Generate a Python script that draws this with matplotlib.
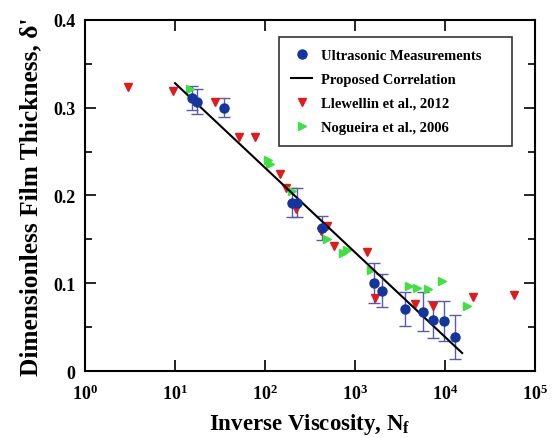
import numpy as np
import matplotlib
matplotlib.use("Agg")
from matplotlib import pyplot as plt
from matplotlib.ticker import FixedLocator, MultipleLocator, FuncFormatter

plt.rcParams['font.family'] = ['Liberation Serif', 'DejaVu Serif']
plt.rcParams['font.weight'] = 'bold'
plt.rcParams['mathtext.fontset'] = 'custom'
plt.rcParams['mathtext.rm'] = 'Liberation Serif:bold'
plt.rcParams['mathtext.it'] = 'Liberation Serif:bold'
plt.rcParams['mathtext.bf'] = 'Liberation Serif:bold'

# Ultrasonic measurements (with error bars)
us_x = [15.3, 17.4, 35.0, 198, 225, 427, 1626, 1980, 3593, 5650, 7300, 9820, 12900]
us_y = [0.311, 0.307, 0.300, 0.192, 0.192, 0.163, 0.100, 0.0915, 0.0707, 0.0676, 0.0585, 0.0573, 0.0387]
us_err = [0.014, 0.014, 0.011, 0.017, 0.017, 0.014, 0.023, 0.019, 0.019, 0.022, 0.021, 0.023, 0.025]

# Proposed correlation (straight line on semilog axes)
corr_x = [10, 15500]
corr_y = [0.328, 0.0205]

# Llewellin et al., 2012
ll_x = [3.0, 9.6, 27.8, 51.8, 78, 147, 171, 221, 416, 493, 589, 1371, 1656, 4680, 7300, 20650, 58400]
ll_y = [0.324, 0.319, 0.306, 0.267, 0.267, 0.225, 0.208, 0.185, 0.160, 0.165, 0.142, 0.136, 0.083, 0.0764, 0.0745, 0.0847, 0.087]

# Nogueira et al., 2006
ng_x = [14.7, 109, 114, 198, 493, 741, 820, 1493, 3950, 4840, 6410, 9340, 17400]
ng_y = [0.321, 0.240, 0.236, 0.205, 0.150, 0.134, 0.138, 0.115, 0.0965, 0.0946, 0.094, 0.102, 0.0737]

fig = plt.figure(figsize=(5.57, 4.39), dpi=100)
ax = fig.add_axes([0.1526, 0.1526, 0.8079, 0.7996])

ax.errorbar(us_x, us_y, yerr=us_err, fmt='none', ecolor='#5a5ab4', elinewidth=1.0,
            capsize=4, capthick=1.0, zorder=2)
ax.plot(ll_x, ll_y, 'v', color='#e31a1c', ms=6, mec='#e31a1c', zorder=3,
        label='Llewellin et al., 2012')
ax.plot(ng_x, ng_y, '>', color='#3ee23e', ms=6, mec='#3ee23e', zorder=3,
        label='Nogueira et al., 2006')
ax.plot(corr_x, corr_y, '-', color='black', lw=1.5, zorder=4, label='Proposed Correlation')
ax.plot(us_x, us_y, 'o', color='#14349e', ms=6.5, mec='#14349e', zorder=5,
        label='Ultrasonic Measurements')

ax.set_xscale('log')
ax.set_xlim(1, 1e5)
ax.set_ylim(0, 0.4)
ax.xaxis.set_major_locator(FixedLocator([1, 10, 100, 1e3, 1e4, 1e5]))
ax.xaxis.set_minor_locator(FixedLocator([]))
ax.xaxis.set_major_formatter(FuncFormatter(lambda v, p: r'$10^{%d}$' % int(round(np.log10(v)))))
ax.yaxis.set_major_locator(MultipleLocator(0.1))
ax.yaxis.set_minor_locator(MultipleLocator(0.05))
ax.yaxis.set_major_formatter(FuncFormatter(lambda v, p: '0' if abs(v) < 1e-9 else '%.1f' % v))

ax.tick_params(which='both', direction='in', top=True, right=True, width=1.2)
ax.tick_params(which='major', length=8, labelsize=13)
ax.tick_params(axis='x', which='major', pad=9)
ax.tick_params(axis='y', which='major', pad=7)
ax.tick_params(which='minor', length=5)
for lab in ax.get_xticklabels() + ax.get_yticklabels():
    lab.set_fontweight('bold')
for sp in ax.spines.values():
    sp.set_linewidth(1.5)

ax.set_xlabel(r"Inverse Viscosity, N$_\mathregular{f}$", fontsize=16.5, fontweight='bold', labelpad=6)
ax.set_ylabel("Dimensionless Film Thickness, δ'", fontsize=18.3, fontweight='bold', labelpad=8)

h, l = ax.get_legend_handles_labels()
order = [3, 2, 0, 1]
leg = ax.legend([h[i] for i in order], [l[i] for i in order], loc='upper left',
                bbox_to_anchor=(0.431, 0.644, 0.518, 0.308), mode='expand', borderaxespad=0,
                prop={'family': 'Liberation Serif', 'weight': 'bold', 'size': 10.5},
                frameon=True, fancybox=False, edgecolor='black', handlelength=1.5,
                handletextpad=0.55, labelspacing=0.75, borderpad=0.8)
leg.get_frame().set_linewidth(1.2)

fig.savefig('out.png', dpi=100)
